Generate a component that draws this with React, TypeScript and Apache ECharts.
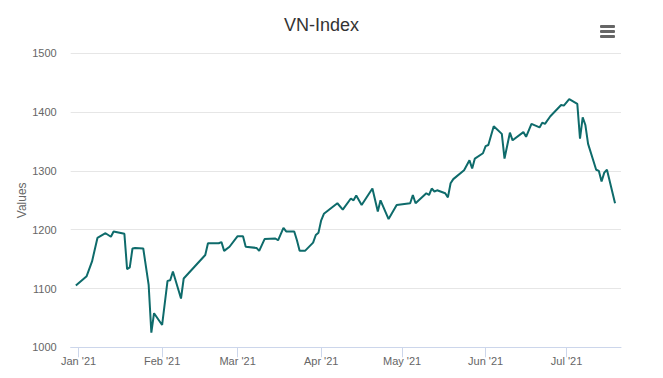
import React, { useEffect, useRef } from "react";
import * as echarts from "echarts";

const dates: string[] = [
  "2020-12-31", "2021-01-04", "2021-01-06", "2021-01-08", "2021-01-11", "2021-01-13", "2021-01-14",
  "2021-01-18", "2021-01-19", "2021-01-20", "2021-01-21", "2021-01-22", "2021-01-25", "2021-01-27",
  "2021-01-28", "2021-01-29", "2021-02-01", "2021-02-03", "2021-02-04", "2021-02-05", "2021-02-08",
  "2021-02-09", "2021-02-17", "2021-02-18", "2021-02-22", "2021-02-23", "2021-02-24", "2021-02-26",
  "2021-03-01", "2021-03-03", "2021-03-04", "2021-03-08", "2021-03-09", "2021-03-11", "2021-03-15",
  "2021-03-16", "2021-03-18", "2021-03-19", "2021-03-22", "2021-03-23", "2021-03-24", "2021-03-26",
  "2021-03-29", "2021-03-30", "2021-03-31", "2021-04-01", "2021-04-02", "2021-04-07", "2021-04-09",
  "2021-04-12", "2021-04-13", "2021-04-14", "2021-04-16", "2021-04-20", "2021-04-22", "2021-04-23",
  "2021-04-26", "2021-04-29", "2021-05-04", "2021-05-05", "2021-05-06", "2021-05-10", "2021-05-11",
  "2021-05-12", "2021-05-13", "2021-05-14", "2021-05-17", "2021-05-18", "2021-05-19", "2021-05-20",
  "2021-05-24", "2021-05-26", "2021-05-27", "2021-05-28", "2021-05-31", "2021-06-01", "2021-06-02",
  "2021-06-04", "2021-06-07", "2021-06-08", "2021-06-10", "2021-06-11", "2021-06-15", "2021-06-16",
  "2021-06-18", "2021-06-21", "2021-06-22", "2021-06-23", "2021-06-25", "2021-06-29", "2021-06-30",
  "2021-07-02", "2021-07-05", "2021-07-06", "2021-07-07", "2021-07-08", "2021-07-09", "2021-07-12",
  "2021-07-13", "2021-07-14", "2021-07-15", "2021-07-16", "2021-07-19",
];

const values: number[] = [
  1105, 1121, 1146, 1186, 1194, 1188, 1197,
  1193, 1133, 1136, 1168, 1169, 1168, 1106,
  1025, 1058, 1038, 1113, 1114, 1129, 1083,
  1117, 1157, 1177, 1177, 1179, 1164, 1171,
  1189, 1189, 1171, 1169, 1164, 1184, 1185,
  1182, 1203, 1197, 1197, 1182, 1164, 1164,
  1178, 1191, 1195, 1216, 1227, 1245, 1234,
  1253, 1250, 1258, 1242, 1270, 1231, 1250,
  1218, 1242, 1245, 1259, 1245, 1262, 1259,
  1270, 1265, 1267, 1262, 1255, 1279, 1286,
  1301, 1318, 1304, 1321, 1330, 1342, 1344,
  1376, 1363, 1321, 1365, 1352, 1366, 1358,
  1380, 1374, 1382, 1380, 1393, 1412, 1411,
  1422, 1414, 1355, 1391, 1378, 1346, 1302,
  1300, 1282, 1297, 1302, 1245,
];

const monthNames: string[] = ["Jan", "Feb", "Mar", "Apr", "May", "Jun", "Jul", "Aug", "Sep", "Oct", "Nov", "Dec"];
const yTicks: number[] = [1000, 1100, 1200, 1300, 1400, 1500];

const FONT = "'Liberation Sans', Arial, Helvetica, sans-serif";

export default function App() {
  const ref = useRef<HTMLDivElement>(null);
  useEffect(() => {
    if (!ref.current) return;
    const chart = echarts.init(ref.current, undefined, { renderer: "svg" });
    const seriesData = dates.map((d, i) => [d, values[i]]);
    chart.setOption({
      animation: false,
      backgroundColor: "#ffffff",
      textStyle: { fontFamily: FONT },
      title: {
        text: "VN-Index",
        left: 284,
        top: 16,
        padding: 0,
        textStyle: { fontFamily: FONT, fontSize: 18, fontWeight: "normal", color: "#333333" },
      },
      grid: { left: 70.7, right: 42, top: 53.3, bottom: 30.7, containLabel: false },
      xAxis: {
        type: "time",
        min: new Date(2020, 11, 29, 2).getTime(),
        max: new Date(2021, 6, 21, 5).getTime(),
        splitNumber: 7,
        minInterval: 27 * 86400000,
        axisLine: { show: true, lineStyle: { color: "#ccd6eb", width: 1 } },
        axisTick: { show: true, length: 10, lineStyle: { color: "#ccd6eb" } },
        splitLine: { show: false },
        axisLabel: {
          color: "#666666",
          fontSize: 11,
          fontFamily: FONT,
          margin: 8,
          showMinLabel: false,
          showMaxLabel: false,
          formatter: (val: number) => {
            const d = new Date(val);
            return monthNames[d.getMonth()] + " '" + String(d.getFullYear()).slice(2);
          },
        },
      },
      yAxis: {
        type: "value",
        min: yTicks[0],
        max: yTicks[yTicks.length - 1],
        interval: 100,
        name: "Values",
        nameLocation: "middle",
        nameGap: 43,
        nameRotate: 90,
        nameMoveOverlap: false,
        nameTextStyle: { color: "#666666", fontSize: 12, fontFamily: FONT },
        axisLine: { show: false },
        axisTick: { show: false },
        splitLine: { show: true, lineStyle: { color: "#e6e6e6", width: 1 } },
        axisLabel: {
          color: "#666666",
          fontSize: 11,
          fontFamily: FONT,
          margin: 14,
          formatter: (v: number) => String(v),
        },
      },
      series: [
        {
          type: "line",
          data: seriesData,
          showSymbol: false,
          symbol: "none",
          lineStyle: { color: "#0e6b6b", width: 2 },
          itemStyle: { color: "#0e6b6b" },
        },
      ],
      graphic: [
        { type: "rect", shape: { x: 600, y: 25, width: 15, height: 3, r: 1 }, style: { fill: "#666666" } },
        { type: "rect", shape: { x: 600, y: 30, width: 15, height: 3, r: 1 }, style: { fill: "#666666" } },
        { type: "rect", shape: { x: 600, y: 35, width: 15, height: 3, r: 1 }, style: { fill: "#666666" } },
      ],
    });
    return () => chart.dispose();
  }, []);
  return <div ref={ref} style={{ width: 663, height: 378, position: "absolute", left: 0, top: 0 }} />;
}
